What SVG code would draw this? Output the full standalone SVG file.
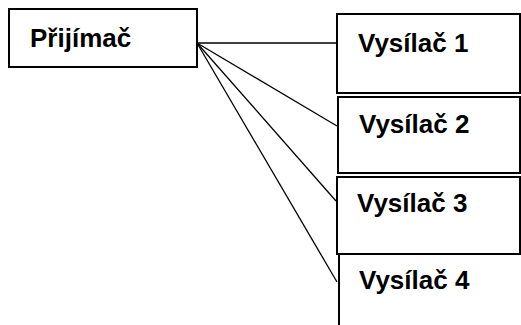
<svg xmlns="http://www.w3.org/2000/svg" width="521" height="325" viewBox="0 0 521 325">
<style>
.box{fill:#fff;stroke:#000;stroke-width:2}
.lbl{font-family:"Liberation Sans",Arial,sans-serif;font-weight:bold;font-size:26px;fill:#000}
.con line{stroke:#000;stroke-width:1.3}
</style>
<rect width="521" height="325" fill="#fff"/>
<g id="vysilac1"><rect class="box" x="337" y="14" width="183" height="79"/><text class="lbl" x="358" y="52">Vysílač 1</text></g>
<g id="vysilac2"><rect class="box" x="338" y="97" width="182" height="76"/><text class="lbl" x="359" y="133">Vysílač 2</text></g>
<g id="vysilac4"><rect class="box" x="339" y="254" width="190" height="90"/><text class="lbl" x="359" y="289">Vysílač 4</text></g>
<g id="vysilac3"><rect class="box" x="337" y="177" width="183" height="77"/><text class="lbl" x="357" y="212">Vysílač 3</text></g>
<g id="prijimac"><rect class="box" x="9" y="9" width="188" height="58"/><text class="lbl" x="30" y="47">Přijímač</text></g>
<g class="con" id="connectors">
<line x1="197" y1="43" x2="337" y2="43"/>
<line x1="197" y1="43" x2="337" y2="126"/>
<line x1="197" y1="43" x2="336" y2="201"/>
<line x1="197" y1="43" x2="337" y2="282"/>
</g>
</svg>
